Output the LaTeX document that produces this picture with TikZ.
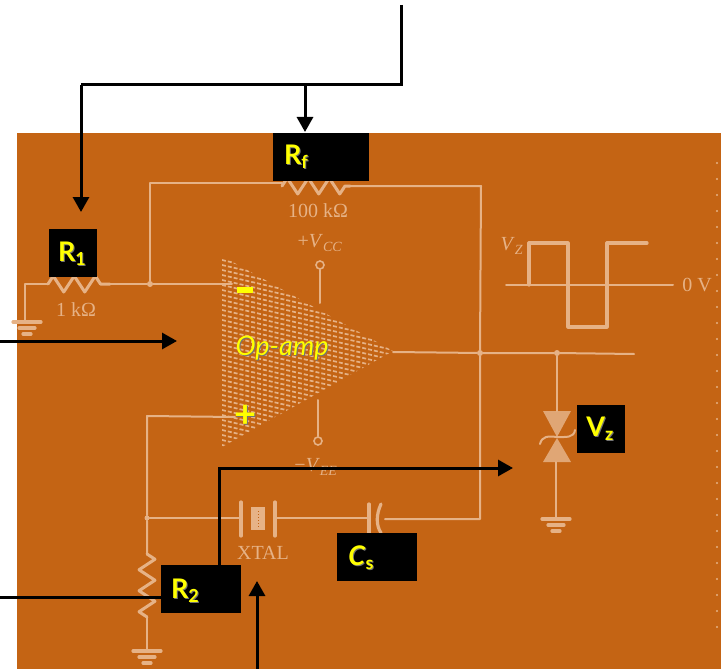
\documentclass[tikz,border=0pt]{standalone}
\usepackage{fontspec}
\setmainfont{Lato}
\newfontfamily\schemfont{Liberation Serif}
\usetikzlibrary{arrows.meta,decorations.pathmorphing}
\definecolor{boardorange}{RGB}{196,100,20}
\definecolor{wiretan}{RGB}{230,178,134}
\definecolor{labelyellow}{RGB}{255,255,0}
\tikzset{
  wire/.style={draw=wiretan, line width=2pt, line cap=round, line join=round},
  wire-thick/.style={wire, line width=3.2pt},
  zig-h/.style={wire, line width=3pt, decorate, decoration={zigzag, segment length=21pt, amplitude=8pt}},
  zig-v/.style={wire, line width=3pt, decorate, decoration={zigzag, segment length=21pt, amplitude=8pt}},
  node-dot/.style={circle, fill=wiretan, minimum size=6pt, inner sep=0pt},
  node-pin/.style={circle, draw=wiretan, line width=1.6pt, minimum size=8pt, inner sep=0pt},
  label-box/.style={fill=black, inner sep=0pt, minimum height=48pt},
  label-text/.style={text=labelyellow, inner sep=0pt, font=\fontsize{27}{27}\selectfont},
  label-shade/.style={label-text, text=black!55},
  schem-text/.style={text=wiretan, inner sep=0pt, font=\schemfont\fontsize{20}{20}\selectfont},
  pointer/.style={draw=black, line width=3pt, -{Triangle[length=15pt,width=16pt]}},
  pointer-plain/.style={draw=black, line width=3pt}
}
\newcommand{\subtext}[2]{\bfseries #1\raisebox{-0.3ex}{\fontsize{18}{18}\selectfont #2}}
\newcommand{\shadetext}[3]{
  \node[label-shade] at ([shift={(1,1)}]#1) {#3};
  \node[label-text] (#2) at (#1) {#3};
}
\begin{document}
\begin{tikzpicture}[x=1pt, y=-1pt]
  \useasboundingbox (0,0) rectangle (721,669);
  \fill[boardorange] (17,133) rectangle (721,669);

  % Stippled op-amp body
  \begin{scope}
    \clip (222,256) -- (393,351) -- (222,447) -- cycle;
    \foreach \y in {160,165,...,460} {
      \draw[wiretan, line width=1.7pt, dash pattern=on 4pt off 2pt] (222,\y) -- (393,\y+40);
    }
  \end{scope}

  % Junctions and pins
  \node[node-dot] (InJoin) at (150,284) {};
  \node[node-dot] (OutJoin) at (480,353) {};
  \node[node-dot] (ZenerJoin) at (557,353) {};
  \node[node-dot, minimum size=5pt] (PlusJoin) at (147,518) {};
  \node[node-pin] (VccPin) at (320,265) {};
  \node[node-pin] (VeePin) at (318,441) {};

  \coordinate (R1A) at (48,284);
  \coordinate (R1B) at (110,284);
  \coordinate (RfA) at (282,186);
  \coordinate (RfB) at (350,186);
  \coordinate (R2A) at (147,554);
  \coordinate (R2B) at (147,617);
  \coordinate (GndL) at (25,322);
  \coordinate (GndR) at (147,651);
  \coordinate (GndZ) at (556,519);
  \coordinate (FbCorner) at (481,186);
  \coordinate (FbLow) at (480,519);

  % Input side
  \draw[wire] (GndL) -- (25,284) -- (R1A);
  \draw[zig-h] (R1A) -- (R1B);
  \draw[wire] (R1B) -- (InJoin) -- (232,284);
  \draw[wire] (InJoin) -- (150,183) -- (282,183);
  \draw[zig-h] (RfA) -- (RfB);
  \draw[wire] (RfB) -- (FbCorner) -- (OutJoin) -- (FbLow) -- (385,519);
  \draw[wire] (393,352) -- (OutJoin) -- (ZenerJoin) -- (634,354);
  \draw[wire] (VccPin) -- (320,303);
  \draw[wire] (318,400) -- (VeePin);

  % Plus input and lower branch
  \draw[wire] (235,417) -- (147,416) -- (PlusJoin) -- (R2A);
  \draw[zig-v] (R2A) -- (R2B);
  \draw[wire] (R2B) -- (GndR);
  \draw[wire] (PlusJoin) -- (239,518);
  \draw[wire] (277,518) -- (368,518);

  % Crystal
  \draw[wire-thick] (241,502) -- (241,536);
  \draw[wire-thick] (275,502) -- (275,536);
  \fill[wiretan] (251,507) rectangle (265,530);
  \draw[boardorange, line width=1pt, dotted] (258,511) -- (258,527);
  % Series capacitor
  \draw[wire-thick] (369,504) -- (369,533);
  \draw[wire-thick] (381,504) .. controls (376,515) and (376,525) .. (381,533);

  % Ground bars
  \foreach \gx/\gy in {27/322, 147/651, 556/519} {
    \draw[wire-thick] (\gx-14,\gy) -- (\gx+14,\gy);
    \draw[wire-thick] (\gx-8,\gy+6) -- (\gx+8,\gy+6);
    \draw[wire-thick] (\gx-4,\gy+12) -- (\gx+4,\gy+12);
  }

  % Zener
  \draw[wire] (ZenerJoin) -- (557,411);
  \fill[wiretan, fill opacity=0.85] (543,411) -- (571,411) -- (557,437) -- cycle;
  \fill[wiretan, fill opacity=0.85] (543,462) -- (571,462) -- (557,438) -- cycle;
  \draw[wire] (540,444) .. controls (542,436) and (548,436) .. (557,437) .. controls (566,437) and (574,438) .. (575,430);
  \draw[wire] (556,462) -- (GndZ);

  % Waveform
  \draw[wire] (506,285) -- (673,285);
  \draw[wire-thick] (529,285) -- (529,243) -- (568,243) -- (568,327) -- (607,327) -- (607,243) -- (647,243);

  % Edge specks
  \foreach \y in {163,179,...,630} {
    \fill[wiretan] (717,\y) circle (1.2pt);
  }

  % Schematic text
  \node[schem-text] (RfValue) at (318,211) {100 kΩ};
  \node[schem-text] (R1Value) at (76,310) {1 kΩ};
  \node[schem-text] (VccText) at (320,243) {+\textit{V}\textsubscript{\textit{CC}}};
  \node[schem-text] (VeeText) at (316,467) {−\textit{V}\textsubscript{\textit{EE}}};
  \node[schem-text] (XtalText) at (263,553) {XTAL};
  \node[schem-text] (VzLabel) at (512,246) {\textit{V}\textsubscript{\textit{Z}}};
  \node[schem-text] (ZeroText) at (697,285) {0 V};

  % Black label boxes
  \node[label-box, minimum width=96pt] (RfBox) at (321,157) {};
  \node[label-box, minimum width=48pt] (R1Box) at (73,253) {};
  \node[label-box, minimum width=48pt] (VzBox) at (601,429) {};
  \node[label-box, minimum width=80pt] (R2Box) at (201,589) {};
  \node[label-box, minimum width=80pt] (CsBox) at (377,557) {};

  \shadetext{296,157}{RfText}{\subtext{R}{f}}
  \shadetext{72,254}{R1Text}{\subtext{R}{1}}
  \shadetext{600,429}{VzText}{\subtext{V}{z}}
  \shadetext{185,591}{R2Text}{\subtext{R}{2}}
  \shadetext{361,558}{CsText}{\subtext{\textit{C}}{s}}
  \shadetext{282,348}{OpText}{\itshape Op-amp}
  \shadetext{246,416}{PlusText}{\fontsize{38}{38}\selectfont\bfseries +}
  \fill[labelyellow] (237,287) rectangle (253,293);

  % Black pointers
  \coordinate (TopFree) at (401,5);
  \coordinate (TopTurn) at (401,85);
  \coordinate (LeftTurn) at (81,85);
  \coordinate (RfTurn) at (305,85);
  \coordinate (R1Tip) at (81,212);
  \coordinate (RfTip) at (305,132);
  \coordinate (OpFree) at (0,341);
  \coordinate (OpTip) at (177,341);
  \coordinate (R2Free) at (0,597);
  \coordinate (ZenerTip) at (513,468);
  \coordinate (XtalFree) at (257,669);
  \coordinate (XtalTip) at (257,581);
  \draw[pointer-plain] (TopFree) -- (TopTurn) -- (LeftTurn);
  \draw[pointer] (LeftTurn) -- (R1Tip);
  \draw[pointer] (RfTurn) -- (RfTip);
  \draw[pointer] (OpFree) -- (OpTip);
  \draw[pointer-plain] (R2Free) -- (R2Box.west |- R2Free);
  \draw[pointer] (R2Box.north -| 219,0) -- (219,468) -- (ZenerTip);
  \draw[pointer] (XtalFree) -- (XtalTip);
\end{tikzpicture}
\end{document}
